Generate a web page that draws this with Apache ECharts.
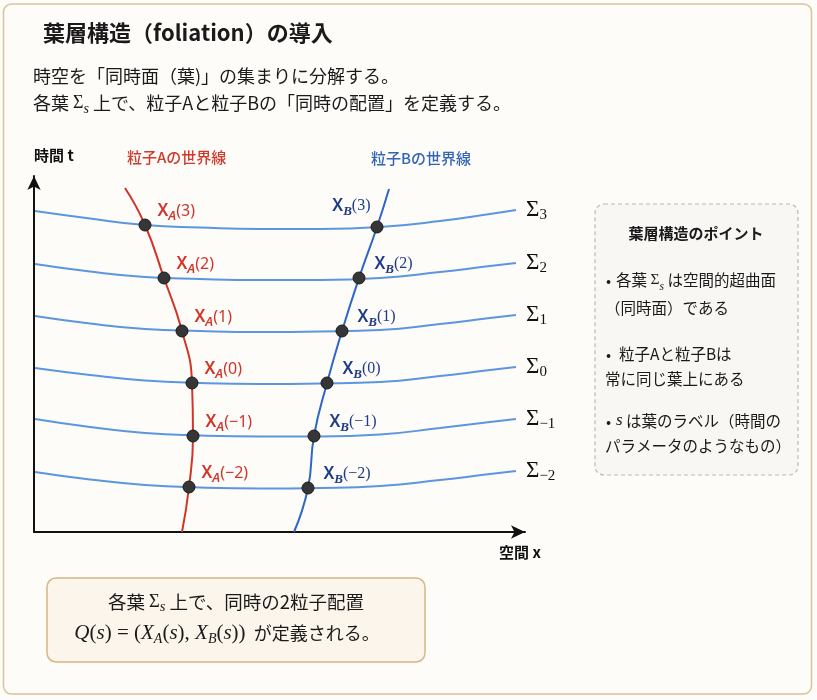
<!DOCTYPE html>
<html><head><meta charset="utf-8">
<script src="https://cdn.jsdelivr.net/npm/echarts@6/dist/echarts.min.js"></script>
<style>html,body{margin:0;padding:0;background:#fdfcf9}#c{width:817px;height:700px}</style>
</head><body><div id="c"></div><script>
// ---- data (space x, time t) ----
const leafLabels = ['3', '2', '1', '0', '−1', '−2'];
const leafX = [1, 56, 111, 166, 226, 286, 346, 406, 456, 482];
const leafS3 = [321, 313.5, 307, 304.5, 303, 303, 305, 311, 318, 322];
const leafS2 = [268, 260.5, 255, 253, 252, 252, 254, 260, 266, 269];
const leafS1 = [216, 208.5, 203, 201, 200, 200.5, 202, 208, 214, 217];
const leafS0 = [164, 157, 151.5, 149, 148, 148.5, 150, 156, 162, 165];
const leafSm1 = [113, 105, 99, 96.5, 95.5, 95.5, 97.5, 104, 110, 113];
const leafSm2 = [60, 52.5, 47, 44.5, 43.5, 44, 46, 52, 58, 61];
const worldAX = [91, 111, 130, 148, 158, 159, 155, 148];
const worldAT = [344, 307, 254, 201, 149, 96, 45, 0];
const worldBX = [355, 343, 325, 308, 293, 280, 274, 260];
const worldBT = [343, 305, 254, 201, 149, 96, 44, 0];
const dotsAX = [111, 130, 148, 158, 159, 155];
const dotsAT = [307, 254, 201, 149, 96, 45];
const dotsBX = [343, 325, 308, 293, 280, 274];
const dotsBT = [305, 254, 201, 149, 96, 44];

const leaves = [leafS3, leafS2, leafS1, leafS0, leafSm1, leafSm2];
const JP = '"Noto Sans CJK JP", "Noto Sans", sans-serif';
const SERIF = '"Liberation Serif", "DejaVu Serif", serif';
const RED = '#d1352a', BLUE = '#2d66c6', LEAF = '#5c96de', NAVY = '#1f3b86';

const series = [];
leaves.forEach((t, i) => {
  series.push({
    type: 'line', data: leafX.map((x, j) => [x, t[j]]), smooth: 0.5, symbol: 'none',
    lineStyle: { color: LEAF, width: 2 }, z: 2, silent: true,
    endLabel: {
      show: true, distance: 10, formatter: () => `{sig|Σ}{sub|${leafLabels[i]}}`,
      rich: {
        sig: { fontFamily: SERIF, fontSize: 23, color: '#111', lineHeight: 26 },
        sub: { fontFamily: SERIF, fontSize: 15, color: '#111', lineHeight: 14, verticalAlign: 'bottom' }
      }
    }
  });
});
series.push({ type: 'line', data: worldAX.map((x, j) => [x, worldAT[j]]), smooth: 0.5, symbol: 'none', lineStyle: { color: RED, width: 2 }, z: 3 });
series.push({ type: 'line', data: worldBX.map((x, j) => [x, worldBT[j]]), smooth: 0.5, symbol: 'none', lineStyle: { color: BLUE, width: 2 }, z: 3 });

const dotStyle = { color: '#363636', borderColor: '#1a1a1a', borderWidth: 1, opacity: 1 };
function richFor(color, subFont) {
  return {
    x: { fontFamily: '"Noto Sans", sans-serif', fontWeight: 600, fontSize: 17, color, lineHeight: 24 },
    a: { fontFamily: subFont, fontStyle: 'italic', fontWeight: 600, fontSize: 13, color, lineHeight: 12, verticalAlign: 'bottom' },
    p: { fontFamily: subFont, fontSize: 16, color, lineHeight: 24 }
  };
}
series.push({
  type: 'scatter', symbolSize: 12, itemStyle: dotStyle, z: 5,
  data: dotsAX.map((x, j) => [x, dotsAT[j]]),
  label: {
    show: true, position: 'right', offset: [1, -14], color: RED,
    formatter: p => `{x|X}{a|A}{p|(${leafLabels[p.dataIndex]})}`,
    rich: richFor(RED, '"Noto Sans", sans-serif')
  }
});
series.push({
  type: 'scatter', symbolSize: 12, itemStyle: dotStyle, z: 5,
  data: dotsBX.map((x, j) => {
    const item = { value: [x, dotsBT[j]] };
    if (j === 0) item.label = { position: 'left', offset: [5, -21] };
    return item;
  }),
  label: {
    show: true, position: 'right', offset: [4, -14], color: NAVY,
    formatter: p => `{x|X}{a|B}{p|(${leafLabels[p.dataIndex]})}`,
    rich: richFor(NAVY, SERIF)
  }
});

function axis(max) {
  return {
    type: 'value', min: 0, max,
    axisLine: { show: true, onZero: false, symbol: ['none', 'arrow'], symbolSize: [10, 14], lineStyle: { color: '#111', width: 2 } },
    axisTick: { show: false }, axisLabel: { show: false }, splitLine: { show: false }
  };
}

function txt(x, y, text, font, fill, align, rich) {
  const s = { text, font, fill: fill || '#1a1a1a', align: align || 'left', verticalAlign: 'middle' };
  if (rich) s.rich = rich;
  return { type: 'text', x, y, z: 10, style: s };
}
const inlineRich = (size, color) => ({
  j: { fontFamily: JP, fontSize: size, color, lineHeight: 26 },
  sig: { fontFamily: SERIF, fontSize: size, color, lineHeight: 26 },
  s: { fontFamily: SERIF, fontStyle: 'italic', fontSize: size - 4, color, lineHeight: 12, verticalAlign: 'bottom' }
});

const graphics = [
  { type: 'rect', z: -10, shape: { x: 3.5, y: 4, width: 808, height: 690, r: 8 }, style: { fill: '#fdfcf9', stroke: '#dcc199', lineWidth: 1.5 } },
  txt(43, 33, '葉層構造（foliation）の導入', `bold 22px ${JP}`, '#1a1a1a'),
  txt(33, 76, '時空を「同時面（葉)」の集まりに分解する。', `18px ${JP}`, '#1a1a1a'),
  txt(33, 103, '{j|各葉 }{sig|Σ}{s|s}{j| 上で、粒子Aと粒子Bの「同時の配置」を定義する。}', `18px ${JP}`, '#1a1a1a', 'left', inlineRich(18, '#1a1a1a')),
  txt(34, 155, '時間 t', `bold 15px ${JP}`, '#111'),
  txt(499, 552, '空間 x', `bold 15px ${JP}`, '#111'),
  txt(127, 157, '粒子Aの世界線', `500 15px ${JP}`, '#cf3a2c'),
  txt(371, 158, '粒子Bの世界線', `500 15px ${JP}`, '#3465b5'),
  // right box
  { type: 'rect', z: 1, shape: { x: 595, y: 204, width: 203, height: 271, r: 9 }, style: { fill: '#f8f7f3', stroke: '#b9b9b9', lineWidth: 1.2, lineDash: [4, 3] } },
  txt(696, 233, '葉層構造のポイント', `bold 15px ${JP}`, '#1a1a1a', 'center'),
  txt(606, 280, '•', `15px ${JP}`, '#1a1a1a'),
  txt(616, 280, '{j|各葉 }{sig|Σ}{s|s}{j| は空間的超曲面}', `15.5px ${JP}`, '#1a1a1a', 'left', inlineRich(15.5, '#1a1a1a')),
  txt(605, 308, '（同時面）である', `15.5px ${JP}`, '#1a1a1a'),
  txt(606, 354, '•', `15px ${JP}`, '#1a1a1a'),
  txt(619, 354, '粒子Aと粒子Bは', `15.5px ${JP}`, '#1a1a1a'),
  txt(605, 379, '常に同じ葉上にある', `15.5px ${JP}`, '#1a1a1a'),
  txt(606, 421, '•', `15px ${JP}`, '#1a1a1a'),
  txt(616, 421, '{m|s}{j| は葉のラベル（時間の}', `15.5px ${JP}`, '#1a1a1a', 'left', {
    j: { fontFamily: JP, fontSize: 15.5, color: '#1a1a1a' },
    m: { fontFamily: SERIF, fontStyle: 'italic', fontSize: 17, color: '#1a1a1a' }
  }),
  txt(605, 446, 'パラメータのようなもの）', `15.5px ${JP}`, '#1a1a1a'),
  // bottom box
  { type: 'rect', z: 1, shape: { x: 47, y: 578, width: 378, height: 84, r: 9 }, style: { fill: '#fbf5ec', stroke: '#d8b684', lineWidth: 1.5 } },
  txt(236, 602, '{j|各葉 }{sig|Σ}{s|s}{j| 上で、同時の2粒子配置}', `18px ${JP}`, '#1a1a1a', 'center', inlineRich(18.5, '#1a1a1a')),
  txt(227, 633, '{m|Q}{r|(}{m|s}{r|) = (}{m|X}{ms|A}{r|(}{m|s}{r|), }{m|X}{ms|B}{r|(}{m|s}{r|))}{j|  が定義される。}', `18px ${JP}`, '#1a1a1a', 'center', {
    j: { fontFamily: JP, fontSize: 18, color: '#1a1a1a', lineHeight: 26 },
    m: { fontFamily: SERIF, fontStyle: 'italic', fontSize: 21, color: '#1a1a1a', lineHeight: 26 },
    r: { fontFamily: SERIF, fontSize: 21, color: '#1a1a1a', lineHeight: 26 },
    ms: { fontFamily: SERIF, fontStyle: 'italic', fontSize: 14, color: '#1a1a1a', lineHeight: 12, verticalAlign: 'bottom' }
  })
];

const chart = echarts.init(document.getElementById('c'));
chart.setOption({
  backgroundColor: '#fdfcf9',
  animation: false,
  grid: { left: 34, top: 176, width: 491, height: 356 },
  xAxis: axis(491),
  yAxis: axis(356),
  series,
  graphic: graphics
});
</script></body></html>
